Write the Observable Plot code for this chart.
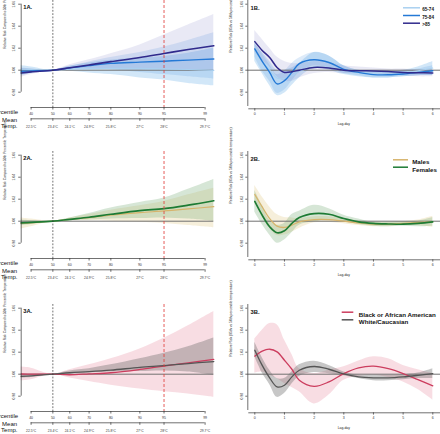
<!DOCTYPE html>
<html><head><meta charset="utf-8">
<script src="https://cdn.jsdelivr.net/npm/d3@7"></script>
<script src="https://cdn.jsdelivr.net/npm/@observablehq/plot@0.6"></script>
<style>
html,body{margin:0;padding:0;background:#fff;}
#fig{position:relative;width:440px;height:434px;overflow:hidden;}
#fig > div{position:absolute;}
</style></head><body><div id="fig"></div>
<script>
// ---------- shared axis data ----------
const tempPoints = [22.09, 22.5, 23.4, 24.1, 24.9, 25.8, 27.0, 28.0, 29.0, 30.06];
const pctTicks = [40, 50, 60, 70, 80, 90, 95, 99];
const pctTemps = [22.5, 23.4, 24.1, 24.9, 25.8, 27.0, 28.0, 29.7];
const tempLabels = ["22.5°C", "23.4°C", "24.1°C", "24.9°C", "25.8°C", "27°C", "28°C", "29.7°C"];
const refTemp = 23.4;   // 50th percentile
const heatTemp = 28.0;  // 95th percentile
const rrTicks = [0.98, 1.00, 1.02, 1.04, 1.06];
const lagDays = [0, 0.25, 0.5, 0.75, 1, 1.25, 1.5, 2, 2.5, 3, 3.5, 4, 4.5, 5, 5.5, 6];
const lagTicks = [0, 1, 2, 3, 4, 5, 6];
const titleA = "Relative Risk Compared to 50th Percentile Temperature";
const titleB = "Relative Risk (95th vs 50th percentile temperature)";

// ---------- Panel 1: age groups ----------
const age6574Temp   = [1.0008, 1.0005, 1.0, 1.0008, 1.0014, 1.0018, 1.0017, 1.0012, 1.0006, 0.9998];
const age6574TempLo = [0.995, 0.997, 1.0, 0.999, 0.9975, 0.996, 0.993, 0.991, 0.988, 0.9858];
const age6574TempHi = [1.004, 1.003, 1.0, 1.0035, 1.0065, 1.009, 1.011, 1.0125, 1.0155, 1.02];
const age7584Temp   = [0.999, 0.9993, 1.0, 1.002, 1.0042, 1.0062, 1.0073, 1.0082, 1.0092, 1.0102];
const age7584TempLo = [0.996, 0.9975, 1.0, 1.0005, 1.001, 1.0005, 0.998, 0.996, 0.994, 0.992];
const age7584TempHi = [1.002, 1.0012, 1.0, 1.0035, 1.0075, 1.0115, 1.016, 1.021, 1.027, 1.034];
const age85Temp     = [0.9975, 0.9985, 1.0, 1.0022, 1.0048, 1.0078, 1.0115, 1.0152, 1.0188, 1.0222];
const age85TempLo   = [0.9935, 0.996, 1.0, 1.0008, 1.0015, 1.0015, 1.001, 1.0005, 1.0, 0.999];
const age85TempHi   = [1.0015, 1.001, 1.0, 1.005, 1.0095, 1.015, 1.023, 1.032, 1.041, 1.0506];

const age6574Lag   = [1.018, 1.008, 1.0, 0.993, 0.9925, 0.995, 0.999, 1.003, 1.0025, 1.0, 0.998, 0.9975, 0.9975, 0.998, 0.9995, 1.002];
const age6574LagLo = [1.008, 0.997, 0.986, 0.977, 0.979, 0.986, 0.993, 1.002, 1.0, 0.996, 0.994, 0.993, 0.993, 0.994, 0.995, 0.995];
const age6574LagHi = [1.024, 1.016, 1.008, 1.0, 1.0, 1.002, 1.006, 1.016, 1.013, 1.004, 1.0, 0.999, 0.999, 1.0, 1.003, 1.008];
const age7584Lag   = [1.0193, 1.008, 0.998, 0.9875, 0.9905, 0.998, 1.006, 1.0095, 1.007, 1.0008, 0.998, 0.996, 0.9958, 0.9966, 0.998, 0.9995];
const age7584LagLo = [1.012, 0.999, 0.99, 0.979, 0.982, 0.99, 0.998, 1.004, 1.002, 0.997, 0.995, 0.993, 0.993, 0.994, 0.995, 0.995];
const age7584LagHi = [1.026, 1.015, 1.005, 0.996, 0.999, 1.006, 1.011, 1.016, 1.013, 1.004, 1.0, 0.999, 0.999, 0.999, 1.001, 1.004];
const age85Lag     = [1.026, 1.018, 1.0116, 1.0025, 0.998, 0.9986, 1.0, 1.0025, 1.002, 1.0, 0.9995, 0.9993, 0.9988, 0.998, 0.9977, 0.9975];
const age85LagLo   = [1.016, 1.009, 1.003, 0.994, 0.99, 0.99, 0.993, 0.997, 0.998, 0.997, 0.997, 0.997, 0.996, 0.995, 0.994, 0.994];
const age85LagHi   = [1.036, 1.028, 1.02, 1.012, 1.008, 1.006, 1.006, 1.008, 1.007, 1.004, 1.003, 1.002, 1.001, 1.001, 1.0, 1.0];

// ---------- Panel 2: sex ----------
const malesTemp     = [0.998, 0.9985, 1.0, 1.0016, 1.0033, 1.0054, 1.0078, 1.0093, 1.0112, 1.0132];
const malesTempLo   = [0.993, 0.995, 1.0, 1.0003, 1.0005, 1.0, 0.999, 0.998, 0.996, 0.994];
const malesTempHi   = [1.003, 1.002, 1.0, 1.003, 1.006, 1.01, 1.014, 1.018, 1.024, 1.03];
const femalesTemp   = [0.9985, 0.9989, 1.0, 1.0017, 1.0036, 1.0063, 1.0096, 1.0114, 1.0146, 1.0186];
const femalesTempLo = [0.996, 0.997, 1.0, 1.0005, 1.001, 1.002, 1.0025, 1.003, 1.002, 1.0];
const femalesTempHi = [1.001, 1.0005, 1.0, 1.003, 1.007, 1.012, 1.017, 1.021, 1.029, 1.038];

const malesLag     = [1.0243, 1.013, 1.0024, 0.9955, 0.9943, 0.9964, 0.9994, 1.0015, 1.0015, 1.0, 0.9985, 0.9973, 0.9973, 0.998, 0.9988, 0.9994];
const malesLagLo   = [1.016, 1.004, 0.9934, 0.987, 0.9874, 0.99, 0.9934, 0.9985, 0.999, 0.9976, 0.996, 0.995, 0.995, 0.9964, 0.996, 0.9943];
const malesLagHi   = [1.0324, 1.022, 1.013, 1.006, 1.0033, 1.003, 1.0024, 1.004, 1.004, 1.0024, 1.0, 0.9994, 0.999, 0.9994, 1.001, 1.0045];
const femalesLag   = [1.018, 1.0054, 0.995, 0.9895, 0.9913, 0.998, 1.0033, 1.0069, 1.0063, 1.0024, 0.9994, 0.998, 0.9975, 0.9973, 0.998, 0.9994];
const femalesLagLo = [1.0084, 0.997, 0.9874, 0.98, 0.9829, 0.9894, 0.9964, 0.9994, 1.001, 0.9994, 0.997, 0.9955, 0.995, 0.9955, 0.995, 0.9955];
const femalesLagHi = [1.028, 1.014, 1.0009, 0.9964, 0.998, 1.006, 1.009, 1.0144, 1.0114, 1.0054, 1.002, 0.999, 0.999, 0.9994, 1.0, 1.0033];

// ---------- Panel 3: race ----------
const blackTemp   = [1.0002, 1.0001, 1.0, 0.9995, 1.0003, 1.0013, 1.0043, 1.0074, 1.0103, 1.0134];
const blackTempLo = [0.994, 0.995, 1.0, 0.9965, 0.9933, 0.99, 0.9865, 0.984, 0.982, 0.979];
const blackTempHi = [1.0065, 1.0055, 1.0, 1.004, 1.0085, 1.014, 1.023, 1.0327, 1.044, 1.057];
const whiteTemp   = [0.998, 0.9985, 1.0, 1.0013, 1.0023, 1.0037, 1.0062, 1.0078, 1.0097, 1.0115];
const whiteTempLo = [0.9965, 0.997, 1.0, 1.0005, 1.001, 1.002, 1.0025, 1.003, 1.002, 0.999];
const whiteTempHi = [0.9995, 0.9995, 1.0, 1.003, 1.005, 1.0085, 1.014, 1.019, 1.025, 1.033];

const blackLag   = [1.0164, 1.021, 1.0227, 1.0203, 1.0127, 1.0045, 0.9945, 0.989, 0.993, 1.0006, 1.0058, 1.0073, 1.005, 1.0006, 0.995, 0.9894];
const blackLagLo = [1.001, 1.002, 0.999, 0.996, 0.9915, 0.988, 0.984, 0.973, 0.981, 0.9945, 0.998, 0.999, 0.997, 0.993, 0.986, 0.9764];
const blackLagHi = [1.032, 1.04, 1.046, 1.045, 1.031, 1.018, 1.005, 1.0006, 1.0036, 1.0067, 1.012, 1.0158, 1.014, 1.008, 1.004, 1.0006];
const whiteLag   = [1.0218, 1.008, 0.9967, 0.9885, 0.99, 0.9976, 1.0036, 1.007, 1.0045, 1.0003, 0.9976, 0.9967, 0.9967, 0.9976, 0.999, 1.0006];
const whiteLagLo = [1.016, 1.001, 0.9906, 0.979, 0.9824, 0.991, 0.998, 1.0015, 1.0005, 0.9985, 0.996, 0.994, 0.994, 0.995, 0.996, 0.996];
const whiteLagHi = [1.029, 1.015, 1.0036, 0.996, 0.996, 1.002, 1.0085, 1.0118, 1.008, 1.002, 0.999, 0.999, 0.999, 0.9995, 1.001, 1.005];

// ---------- layout / style ----------
const ROW_TOPS = [0, 151.3, 303.6];
const PW = 220, PH = 151;
const Y_TOP = 3.7, Y_BOT = 91.7;
const FONT = "'Liberation Sans', Arial, Helvetica, sans-serif";
const AXIS = "#333";
const REF = "#707070";

function rowsOf(xs, v, lo, hi) {
  return xs.map((x, i) => ({x, v: v[i], lo: lo[i], hi: hi[i]}));
}

function seriesMarks(xs, series) {
  const bands = series.map(s => Plot.areaY(rowsOf(xs, s.v, s.lo, s.hi),
    {x: "x", y1: "lo", y2: "hi", fill: s.band, fillOpacity: s.bandOpacity, curve: "catmull-rom"}));
  const lines = series.map(s => Plot.line(rowsOf(xs, s.v, s.lo, s.hi),
    {x: "x", y: "v", stroke: s.color, strokeWidth: s.width, curve: "catmull-rom"}));
  return {bands, lines};
}

function tempPanel(cfg) {
  const xMin = tempPoints[0], xMax = tempPoints[tempPoints.length - 1];
  const ML = 20.7, MR = 6.7;
  const {bands, lines} = seriesMarks(tempPoints, cfg.series);
  const pctOf = new Map(pctTemps.map((t, i) => [t, pctTicks[i]]));
  const labOf = new Map(pctTemps.map((t, i) => [t, tempLabels[i]]));
  const pctY = 107, tempY = 118.3;
  return Plot.plot({
    width: PW, height: PH,
    marginLeft: ML, marginRight: MR, marginTop: Y_TOP, marginBottom: PH - Y_BOT,
    x: {domain: [xMin, xMax], axis: null, label: null},
    y: {domain: [rrTicks[0], rrTicks[rrTicks.length - 1]], axis: null, label: null},
    style: {fontFamily: FONT, fontSize: "3.5px", background: "transparent", overflow: "visible"},
    marks: [
      ...bands,
      Plot.ruleY([1], {x1: xMin, x2: xMax, stroke: REF, strokeWidth: 1}),
      ...lines,
      Plot.ruleX([refTemp], {stroke: "#333", strokeWidth: 0.7, strokeDasharray: "1.8,1.5", insetTop: -Y_TOP, insetBottom: -(pctY - Y_BOT)}),
      Plot.ruleX([heatTemp], {stroke: "#e0403f", strokeWidth: 0.85, strokeDasharray: "3,2", insetTop: -Y_TOP, insetBottom: -(pctY - Y_BOT)}),
      // y axis
      Plot.ruleX([xMin], {y1: rrTicks[0], y2: rrTicks[rrTicks.length - 1], stroke: AXIS, strokeWidth: 0.7}),
      Plot.axisY(rrTicks, {anchor: "left", label: null, tickSize: 2.5, tickPadding: 3.6, tickRotate: -90, tickFormat: d3.format(".2f"), fontSize: 3.3, color: AXIS, strokeWidth: 0.7}),
      Plot.text([titleA], {frameAnchor: "left", dx: 4 - ML, dy: 0.5, rotate: -90, fontSize: 3.2, fill: "#222"}),
      // percentile axis
      Plot.ruleY([rrTicks[0]], {x1: pctTemps[0], x2: pctTemps[pctTemps.length - 1], dy: pctY - Y_BOT, stroke: AXIS, strokeWidth: 0.7}),
      Plot.axisX(pctTemps, {anchor: "bottom", label: null, dy: pctY - Y_BOT, tickSize: 2.5, tickPadding: 2.3, tickFormat: t => pctOf.get(t), fontSize: 3.5, color: AXIS, strokeWidth: 0.7}),
      // temperature axis
      Plot.ruleY([rrTicks[0]], {x1: pctTemps[0], x2: pctTemps[pctTemps.length - 1], dy: tempY - Y_BOT, stroke: AXIS, strokeWidth: 0.7}),
      Plot.axisX(pctTemps, {anchor: "bottom", label: null, dy: tempY - Y_BOT, tickSize: 2.5, tickPadding: 4.0, tickFormat: t => labOf.get(t), fontSize: 3.3, color: AXIS, strokeWidth: 0.7}),
      // row labels
      Plot.text(["Percentile"], {frameAnchor: "bottom-left", textAnchor: "end", dx: 17.6 - ML, dy: 113.7 - Y_BOT, fontSize: 6, fill: "#111"}),
      Plot.text(["Mean"], {frameAnchor: "bottom-left", textAnchor: "start", dx: 1.6 - ML, dy: 121 - Y_BOT, fontSize: 6, fill: "#111"}),
      Plot.text(["Temp."], {frameAnchor: "bottom-left", textAnchor: "start", dx: 0.6 - ML, dy: 127.8 - Y_BOT, fontSize: 6, fill: "#111"}),
      // panel label
      Plot.text([cfg.label], {frameAnchor: "top-left", textAnchor: "start", dx: 2, dy: 1, fontSize: 5.8, fontWeight: "bold", fill: "#111"})
    ]
  });
}

function lagPanel(cfg) {
  const ML = 34.3, MR = 7.7, AX = 7;
  const {bands, lines} = seriesMarks(lagDays, cfg.series);
  const L = cfg.legend;
  const legendMarks = [];
  cfg.series.forEach((s, i) => {
    const yy = L.top + i * L.step - Y_TOP;
    legendMarks.push(Plot.ruleY([rrTicks[rrTicks.length - 1]], {insetLeft: L.x0 - ML, insetRight: (PW - MR) - L.x1, dy: yy, stroke: s.color, strokeWidth: 1.5}));
    legendMarks.push(Plot.text([s.name], {frameAnchor: "top-left", textAnchor: "start", dx: L.tx - ML, dy: yy, fontSize: L.fontSize, fontWeight: "bold", fill: "#111"}));
  });
  const boxY = 108.3;
  return Plot.plot({
    width: PW, height: PH,
    marginLeft: ML, marginRight: MR, marginTop: Y_TOP, marginBottom: PH - Y_BOT,
    x: {domain: [lagTicks[0], lagTicks[lagTicks.length - 1]], axis: null, label: null},
    y: {domain: [rrTicks[0], rrTicks[rrTicks.length - 1]], axis: null, label: null},
    style: {fontFamily: FONT, fontSize: "3.5px", background: "transparent", overflow: "visible"},
    marks: [
      ...bands,
      Plot.ruleY([1], {insetLeft: -AX, insetRight: -MR, stroke: REF, strokeWidth: 1}),
      ...lines,
      // L-shaped box
      Plot.ruleX([lagTicks[0]], {dx: -AX, insetTop: -Y_TOP, insetBottom: -(106 - Y_BOT), stroke: AXIS, strokeWidth: 0.7}),
      Plot.ruleY([rrTicks[0]], {dy: boxY - Y_BOT, insetLeft: -AX + 1, insetRight: -MR, stroke: AXIS, strokeWidth: 0.7}),
      Plot.axisY(rrTicks, {anchor: "left", label: null, dx: -AX, tickSize: 2, tickPadding: 2.6, tickRotate: -90, tickFormat: d3.format(".2f"), fontSize: 3.3, color: AXIS, strokeWidth: 0.7}),
      Plot.axisX(lagTicks, {anchor: "bottom", label: null, dy: boxY - Y_BOT, tickSize: 2.3, tickPadding: 1.6, fontSize: 3.5, color: AXIS, strokeWidth: 0.7}),
      Plot.text(["Lag-day"], {frameAnchor: "bottom", dy: 124.7 - Y_BOT, fontSize: 3.4, fill: "#222"}),
      Plot.text([titleB], {frameAnchor: "left", dx: 10 - ML, dy: 4.5, rotate: -90, fontSize: 3.4, fill: "#222"}),
      Plot.text([cfg.label], {frameAnchor: "top-left", textAnchor: "start", dx: 30 - ML, dy: 1.3, fontSize: 5.8, fontWeight: "bold", fill: "#111"}),
      ...legendMarks
    ]
  });
}

// ---------- colours ----------
const C6574 = "#a9d0f0", C7584 = "#2479d6", C85 = "#302a8c";
const CMale = "#d6b46c", CFemale = "#1d7b34";
const CBlack = "#cc3d5e", CWhite = "#555555";

const panels = [
  [tempPanel({label: "1A.", series: [
      {v: age6574Temp, lo: age6574TempLo, hi: age6574TempHi, color: C6574, band: "#8fc2ee", bandOpacity: 0.4, width: 1.1},
      {v: age7584Temp, lo: age7584TempLo, hi: age7584TempHi, color: C7584, band: "#3a86d9", bandOpacity: 0.17, width: 1.4},
      {v: age85Temp, lo: age85TempLo, hi: age85TempHi, color: C85, band: "#7f7ac6", bandOpacity: 0.17, width: 1.6}]}),
   lagPanel({label: "1B.", legend: {x0: 183, x1: 200, tx: 201.7, top: 7.3, step: 7.7, fontSize: 4.6}, series: [
      {name: "65-74", v: age6574Lag, lo: age6574LagLo, hi: age6574LagHi, color: C6574, band: "#8fc2ee", bandOpacity: 0.4, width: 1.1},
      {name: "75-84", v: age7584Lag, lo: age7584LagLo, hi: age7584LagHi, color: C7584, band: "#3a86d9", bandOpacity: 0.17, width: 1.4},
      {name: ">85", v: age85Lag, lo: age85LagLo, hi: age85LagHi, color: C85, band: "#7f7ac6", bandOpacity: 0.17, width: 1.5}]})],
  [tempPanel({label: "2A.", series: [
      {v: malesTemp, lo: malesTempLo, hi: malesTempHi, color: CMale, band: "#e8d7a6", bandOpacity: 0.4, width: 1.2},
      {v: femalesTemp, lo: femalesTempLo, hi: femalesTempHi, color: CFemale, band: "#78ac78", bandOpacity: 0.3, width: 1.7}]}),
   lagPanel({label: "2B.", legend: {x0: 173, x1: 188, tx: 191.7, top: 8.3, step: 7.4, fontSize: 6.2}, series: [
      {name: "Males", v: malesLag, lo: malesLagLo, hi: malesLagHi, color: CMale, band: "#e8d7a6", bandOpacity: 0.4, width: 1.3},
      {name: "Females", v: femalesLag, lo: femalesLagLo, hi: femalesLagHi, color: CFemale, band: "#78ac78", bandOpacity: 0.3, width: 1.6}]})],
  [tempPanel({label: "3A.", series: [
      {v: blackTemp, lo: blackTempLo, hi: blackTempHi, color: CBlack, band: "#eeadbd", bandOpacity: 0.42, width: 1.3},
      {v: whiteTemp, lo: whiteTempLo, hi: whiteTempHi, color: CWhite, band: "#6b6b6b", bandOpacity: 0.38, width: 1.3}]}),
   lagPanel({label: "3B.", legend: {x0: 121.7, x1: 133.3, tx: 138.3, top: 7.7, step: 7.6, fontSize: 6.2}, series: [
      {name: "Black or African American", v: blackLag, lo: blackLagLo, hi: blackLagHi, color: CBlack, band: "#eeadbd", bandOpacity: 0.42, width: 1.3},
      {name: "White/Caucasian", v: whiteLag, lo: whiteLagLo, hi: whiteLagHi, color: CWhite, band: "#6b6b6b", bandOpacity: 0.38, width: 1.3}]})]
];

const fig = document.getElementById("fig");
panels.forEach((row, r) => row.forEach((svg, c) => {
  const d = document.createElement("div");
  d.style.left = (c * PW) + "px";
  d.style.top = ROW_TOPS[r] + "px";
  d.appendChild(svg);
  fig.appendChild(d);
}));
</script></body></html>
